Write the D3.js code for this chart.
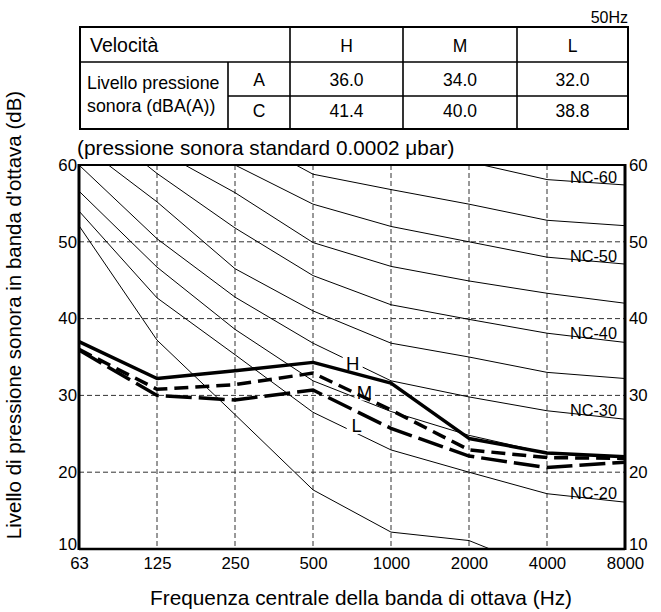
<!DOCTYPE html>
<html>
<head>
<meta charset="utf-8">
<script src="https://cdn.jsdelivr.net/npm/d3@7"></script>
<style>
  html, body { margin: 0; padding: 0; background: #fff; }
  svg { display: block; font-family: "Liberation Sans", Arial, sans-serif; }
</style>
</head>
<body>
<svg id="chart" width="661" height="612"></svg>
<script>
// ---------- data ----------
const freqs = ["63", "125", "250", "500", "1000", "2000", "4000", "8000"];
const yTicks = [10, 20, 30, 40, 50, 60];

// NC curves (dB per octave band)
const nc15 = [52.1, 37.2, 27.5, 17.7, 12.2, 11.1, 7.0, 6.0];
const nc20 = [54.0, 42.7, 35.3, 27.8, 22.9, 20.0, 17.2, 16.1];
const nc25 = [56.6, 46.7, 38.6, 31.9, 27.9, 24.8, 22.5, 22.0];
const nc30 = [60.0, 50.4, 42.8, 36.8, 31.9, 29.8, 28.0, 26.9];
const nc35 = [62.9, 55.2, 46.5, 41.0, 36.8, 35.0, 33.0, 32.2];
const nc40 = [67.0, 58.9, 51.8, 45.6, 41.8, 39.9, 38.1, 36.9];
const nc45 = [71.0, 62.0, 56.4, 49.9, 46.8, 44.9, 43.3, 42.0];
const nc50 = [74.0, 65.0, 60.0, 54.9, 52.0, 50.0, 48.0, 47.1];
const nc55 = [76.0, 69.0, 64.3, 58.8, 56.8, 54.9, 52.8, 52.1];
const nc60 = [79.0, 72.0, 67.0, 64.0, 62.0, 60.4, 58.1, 57.4];
const ncCurves = [nc15, nc20, nc25, nc30, nc35, nc40, nc45, nc50, nc55, nc60];
const ncLabelNames = ["NC-20", "NC-30", "NC-40", "NC-50", "NC-60"];
const ncLabelCurves = [nc20, nc30, nc40, nc50, nc60];

// measured fan speeds
const speedNames = ["H", "M", "L"];
const speedH = [37.0, 32.2, 33.2, 34.3, 31.6, 24.4, 22.5, 22.0];
const speedM = [36.0, 30.8, 31.4, 32.9, 28.1, 22.9, 21.9, 21.8];
const speedL = [35.9, 30.0, 29.4, 30.7, 25.7, 22.1, 20.6, 21.3];

// table
const levelA = ["36.0", "34.0", "32.0"];
const levelC = ["41.4", "40.0", "38.8"];

// ---------- layout ----------
const svg = d3.select("#chart");
const pL = 79, pR = 625, pT = 165, pB = 549;
const x = d3.scalePoint().domain(freqs).range([pL, pR]).padding(0);
const y = d3.scaleLinear().domain([10, 60]).range([pB, pT]);

// ---------- table ----------
const tX = [80, 228, 290, 403, 517, 628];
const tY = [27, 62, 96, 129];
const tg = svg.append("g");
tg.append("text").attr("x", 628).attr("y", 23).attr("text-anchor", "end")
  .attr("font-size", 16).text("50Hz");
tg.append("rect").attr("x", tX[0]).attr("y", tY[0]).attr("width", tX[5] - tX[0])
  .attr("height", tY[3] - tY[0]).attr("fill", "none").attr("stroke", "#000").attr("stroke-width", 2);
const tline = (x1, y1, x2, y2) => tg.append("line").attr("x1", x1).attr("y1", y1)
  .attr("x2", x2).attr("y2", y2).attr("stroke", "#000").attr("stroke-width", 1.6);
tline(tX[0], tY[1], tX[5], tY[1]);
tline(tX[1], tY[2], tX[5], tY[2]);
tline(tX[1], tY[1], tX[1], tY[3]);
[2, 3, 4].forEach(i => tline(tX[i], tY[0], tX[i], tY[3]));
tg.append("text").attr("x", 90).attr("y", 52).attr("font-size", 19.5).text("Velocità");
speedNames.forEach((s, i) => {
  const cx = (tX[i + 2] + tX[i + 3]) / 2;
  tg.append("text").attr("x", cx).attr("y", 52).attr("text-anchor", "middle").attr("font-size", 17.5).text(s);
  tg.append("text").attr("x", cx).attr("y", 86).attr("text-anchor", "middle").attr("font-size", 17.5).text(levelA[i]);
  tg.append("text").attr("x", cx).attr("y", 117).attr("text-anchor", "middle").attr("font-size", 17.5).text(levelC[i]);
});
tg.append("text").attr("x", (tX[1] + tX[2]) / 2).attr("y", 86).attr("text-anchor", "middle").attr("font-size", 17.5).text("A");
tg.append("text").attr("x", (tX[1] + tX[2]) / 2).attr("y", 117).attr("text-anchor", "middle").attr("font-size", 17.5).text("C");
tg.append("text").attr("x", 87).attr("y", 89).attr("font-size", 17.8).text("Livello pressione");
tg.append("text").attr("x", 87).attr("y", 112).attr("font-size", 17.8).text("sonora (dBA(A))");

svg.append("text").attr("x", 77).attr("y", 155).attr("font-size", 20.8)
  .text("(pressione sonora standard 0.0002 μbar)");

// ---------- grid ----------
svg.append("clipPath").attr("id", "plotclip").append("rect")
  .attr("x", pL).attr("y", pT).attr("width", pR - pL).attr("height", pB - pT);

const grid = svg.append("g");
grid.selectAll("line.h").data(yTicks.filter(t => t > 10 && t < 60)).join("line")
  .attr("x1", pL).attr("x2", pR).attr("y1", d => y(d)).attr("y2", d => y(d))
  .attr("stroke", "#333").attr("stroke-width", 1).attr("stroke-dasharray", "5,3");
grid.selectAll("line.v").data(freqs.slice(1, -1)).join("line")
  .attr("x1", d => x(d)).attr("x2", d => x(d)).attr("y1", pT).attr("y2", pB)
  .attr("stroke", "#333").attr("stroke-width", 1).attr("stroke-dasharray", "5,3");

// ---------- NC curves ----------
const line = d3.line().x((d, i) => x(freqs[i])).y(d => y(d));
const ncG = svg.append("g").attr("clip-path", "url(#plotclip)");
ncG.selectAll("path").data(ncCurves).join("path")
  .attr("d", d => line(d)).attr("fill", "none").attr("stroke", "#000").attr("stroke-width", 1);

// NC labels
ncLabelCurves.forEach((c, i) => {
  const yy = y(c[6]) + (y(c[7]) - y(c[6])) * ((594 - x("4000")) / (x("8000") - x("4000")));
  svg.append("text").attr("x", 617).attr("y", yy + 0.5).attr("text-anchor", "end")
    .attr("font-size", 16.3).text(ncLabelNames[i]);
});

// white boxes behind H/M/L labels
const hmlPos = [[352.7, 369.5], [364.5, 398.5], [356.7, 432]];
hmlPos.forEach(p => {
  svg.append("rect").attr("x", p[0] - 10).attr("y", p[1] - 16).attr("width", 20).attr("height", 18)
    .attr("fill", "#fff");
});

// ---------- speed lines ----------
const sp = svg.append("g");
sp.append("path").attr("d", line(speedH)).attr("fill", "none").attr("stroke", "#000")
  .attr("stroke-width", 3.5).attr("stroke-linejoin", "round");
sp.append("path").attr("d", line(speedM)).attr("fill", "none").attr("stroke", "#000")
  .attr("stroke-width", 3.5).attr("stroke-dasharray", "14,7");
sp.append("path").attr("d", line(speedL)).attr("fill", "none").attr("stroke", "#000")
  .attr("stroke-width", 3.5).attr("stroke-dasharray", "26,7");

speedNames.forEach((s, i) => {
  svg.append("text").attr("x", hmlPos[i][0]).attr("y", hmlPos[i][1]).attr("text-anchor", "middle")
    .attr("font-size", 18.5).text(s);
});

// ---------- frame & axes ----------
svg.append("line").attr("x1", pL).attr("x2", pR).attr("y1", pT).attr("y2", pT)
  .attr("stroke", "#000").attr("stroke-width", 2);
svg.append("line").attr("x1", pL).attr("x2", pR).attr("y1", pB).attr("y2", pB)
  .attr("stroke", "#000").attr("stroke-width", 2.5);
svg.append("line").attr("x1", pL).attr("x2", pL).attr("y1", pT - 1).attr("y2", pB + 1)
  .attr("stroke", "#000").attr("stroke-width", 3);
svg.append("line").attr("x1", pR).attr("x2", pR).attr("y1", pT - 1).attr("y2", pB + 1)
  .attr("stroke", "#000").attr("stroke-width", 3);

const yl = d3.axisLeft(y).tickValues(yTicks).tickSize(0).tickPadding(1);
const yr = d3.axisRight(y).tickValues(yTicks).tickSize(0).tickPadding(4);
const xb = d3.axisBottom(x).tickSize(0).tickPadding(8);
const gl = svg.append("g").attr("transform", `translate(${pL - 1},0)`).call(yl);
const gr = svg.append("g").attr("transform", `translate(${pR},0)`).call(yr);
const gb = svg.append("g").attr("transform", `translate(0,${pB})`).call(xb);
[gl, gr, gb].forEach(g => {
  g.select(".domain").remove();
  g.selectAll("text").attr("font-size", 16.8).attr("fill", "#000")
    .attr("font-family", "Liberation Sans, Arial, sans-serif");
});
[gl, gr].forEach(g => g.selectAll(".tick").filter(d => d === 10).select("text").attr("dy", "0.02em"));

svg.append("text").attr("x", 361).attr("y", 605).attr("text-anchor", "middle").attr("font-size", 20.8)
  .text("Frequenza centrale della banda di ottava (Hz)");
svg.append("text").attr("transform", "translate(21,315) rotate(-90)").attr("text-anchor", "middle")
  .attr("font-size", 20.5).text("Livello di pressione sonora in banda d'ottava (dB)");
</script>
</body>
</html>
